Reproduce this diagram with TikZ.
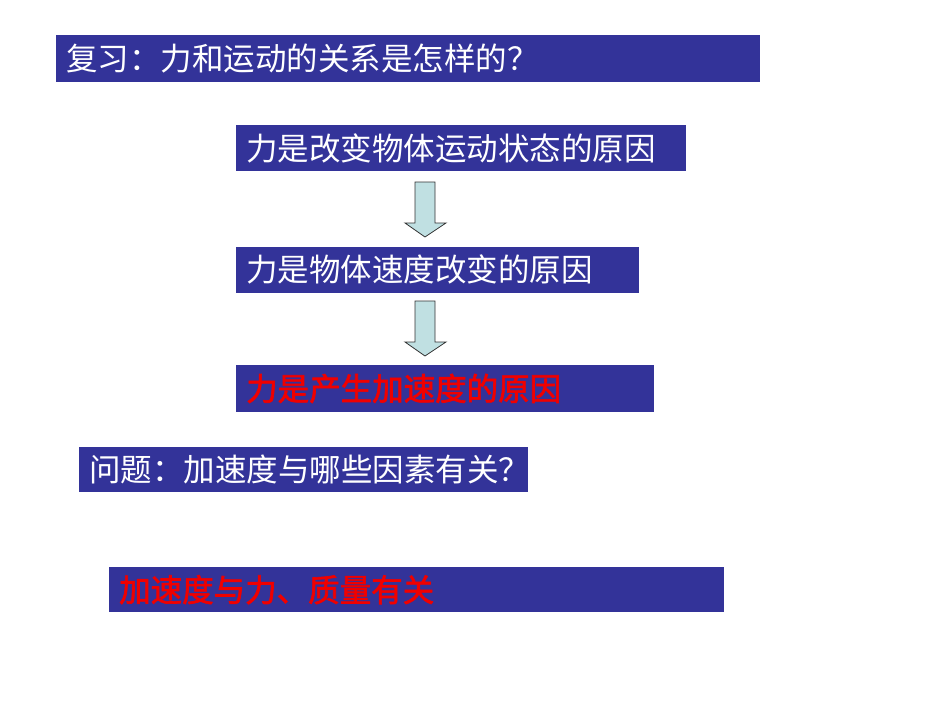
\documentclass[tikz,border=0pt]{standalone}
\usepackage{fontspec}
\setmainfont{Noto Sans CJK SC}[AutoFakeBold=2]
\usetikzlibrary{positioning}

\definecolor{boxblue}{RGB}{51,51,153}
\definecolor{arrowcyan}{RGB}{192,224,226}
\definecolor{keyred}{RGB}{240,0,0}

\begin{document}
\begin{tikzpicture}[
    x=1pt,y=-1pt,
    box/.style={fill=boxblue,text=white,anchor=north west,inner xsep=10pt,inner ysep=0pt,
      minimum height=46pt,align=left,font=\fontsize{31.5pt}{36pt}\selectfont},
    keytext/.style={text=keyred,font=\fontsize{31.5pt}{36pt}\selectfont\bfseries},
    flowarrow/.style={fill=arrowcyan,draw=black!80,line width=0.8pt,line join=miter}
    ]

    \useasboundingbox (0,0) rectangle (950,713);

    \node (review) [box,minimum height=47pt,text width=684pt] at (56,35) {复习：力和运动的关系是怎样的？};
    \node (b1) [box,text width=430pt] at (236,125) {力是改变物体运动状态的原因};
    \node (b2) [box,text width=383pt,below=75pt of b1.south west,anchor=north west] {力是物体速度改变的原因};
    \node (b3) [box,keytext,minimum height=47pt,text width=398pt,below=72pt of b2.south west,anchor=north west] {力是产生加速度的原因};
    \node (question) [box,minimum height=45pt,text width=429pt] at (79,447) {问题：加速度与哪些因素有关？};
    \node (answer) [box,keytext,minimum height=45pt,text width=595pt] at (109,567) {加速度与力、质量有关};

    % block arrows between the boxes
    \coordinate (a1) at (425,182);
    \coordinate (a2) at (425,301);
    \draw[flowarrow] (a1) ++(-10,0) -- ++(20,0) -- ++(0,41) -- ++(11,0) -- ++(-21,14) -- ++(-20,-14) -- ++(10,0) -- cycle;
    \draw[flowarrow] (a2) ++(-10,0) -- ++(20,0) -- ++(0,41) -- ++(11,0) -- ++(-21,14) -- ++(-20,-14) -- ++(10,0) -- cycle;

\end{tikzpicture}
\end{document}
